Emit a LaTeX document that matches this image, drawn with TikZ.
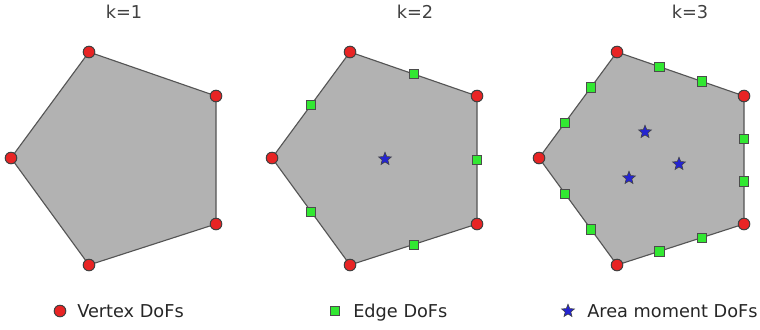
\documentclass[tikz,border=0pt]{standalone}
\usepackage{fontspec}
\setmainfont{DejaVu Sans}
\usepackage{tikz}
\usetikzlibrary{shapes.geometric,calc}
\definecolor{cellgray}{RGB}{178,178,178}
\definecolor{edgegray}{RGB}{85,85,85}
\definecolor{vred}{RGB}{232,36,36}
\definecolor{egreen}{RGB}{50,232,50}
\definecolor{ablue}{RGB}{36,36,210}

\begin{document}
\begin{tikzpicture}[x=0.025cm,y=-0.025cm,
  cell/.style={fill=cellgray,draw=edgegray,line width=0.8pt,line join=round},
  vdof/.style={circle,draw=black!75,fill=vred,line width=0.7pt,minimum size=0.29cm,inner sep=0pt},
  edof/.style={rectangle,draw=black!70,fill=egreen,line width=0.5pt,minimum size=0.23cm,inner sep=0pt},
  adof/.style={star,star points=5,star point ratio=2.3,draw=black!75,fill=ablue,line width=0.4pt,minimum size=0.34cm,inner sep=0pt},
  ktitle/.style={anchor=base,inner sep=0pt,text=black!75,font=\fontsize{12.6}{15}\selectfont},
  legtext/.style={anchor=base west,inner sep=0pt,text=black!85,font=\fontsize{12.6}{15}\selectfont}]
\useasboundingbox (0,0) rectangle (760,329);
% k=1
\node[ktitle] (t1) at (124,18) {k=1};
\coordinate (a1) at (89,52);
\coordinate (b1) at (216,96);
\coordinate (c1) at (216,224);
\coordinate (d1) at (89,265);
\coordinate (e1) at (11,158);
\draw[cell] (a1) -- (b1) -- (c1) -- (d1) -- (e1) -- cycle;
\node[vdof] (v1a) at (a1) {};
\node[vdof] (v1b) at (b1) {};
\node[vdof] (v1c) at (c1) {};
\node[vdof] (v1d) at (d1) {};
\node[vdof] (v1e) at (e1) {};
% k=2
\node[ktitle] (t2) at (415,18) {k=2};
\coordinate (a2) at (350,52);
\coordinate (b2) at (477,96);
\coordinate (c2) at (477,224);
\coordinate (d2) at (350,265);
\coordinate (e2) at (272,158);
\draw[cell] (a2) -- (b2) -- (c2) -- (d2) -- (e2) -- cycle;
\node[edof] (s2ab) at ($(a2)!0.5!(b2)$) {};
\node[edof] (s2bc) at ($(b2)!0.5!(c2)$) {};
\node[edof] (s2cd) at ($(c2)!0.5!(d2)$) {};
\node[edof] (s2de) at ($(d2)!0.5!(e2)$) {};
\node[edof] (s2ea) at ($(e2)!0.5!(a2)$) {};
\node[adof] (m2) at (385,159) {};
\node[vdof] (v2a) at (a2) {};
\node[vdof] (v2b) at (b2) {};
\node[vdof] (v2c) at (c2) {};
\node[vdof] (v2d) at (d2) {};
\node[vdof] (v2e) at (e2) {};
% k=3
\node[ktitle] (t3) at (690,18) {k=3};
\coordinate (a3) at (617,52);
\coordinate (b3) at (744,96);
\coordinate (c3) at (744,224);
\coordinate (d3) at (617,265);
\coordinate (e3) at (539,158);
\draw[cell] (a3) -- (b3) -- (c3) -- (d3) -- (e3) -- cycle;
\node[edof] (s3ab1) at ($(a3)!1/3!(b3)$) {};
\node[edof] (s3ab2) at ($(a3)!2/3!(b3)$) {};
\node[edof] (s3bc1) at ($(b3)!1/3!(c3)$) {};
\node[edof] (s3bc2) at ($(b3)!2/3!(c3)$) {};
\node[edof] (s3cd1) at ($(c3)!1/3!(d3)$) {};
\node[edof] (s3cd2) at ($(c3)!2/3!(d3)$) {};
\node[edof] (s3de1) at ($(d3)!1/3!(e3)$) {};
\node[edof] (s3de2) at ($(d3)!2/3!(e3)$) {};
\node[edof] (s3ea1) at ($(e3)!1/3!(a3)$) {};
\node[edof] (s3ea2) at ($(e3)!2/3!(a3)$) {};
\node[adof] (m3a) at (645,132) {};
\node[adof] (m3b) at (679,164) {};
\node[adof] (m3c) at (629,178) {};
\node[vdof] (v3a) at (a3) {};
\node[vdof] (v3b) at (b3) {};
\node[vdof] (v3c) at (c3) {};
\node[vdof] (v3d) at (d3) {};
\node[vdof] (v3e) at (e3) {};
% legend
\node[vdof] (lv) at (60,311) {};
\node[legtext] (lvt) at (77,317) {Vertex DoFs};
\node[edof] (le) at (335,311) {};
\node[legtext] (let) at (353,317) {Edge DoFs};
\node[adof] (la) at (568,311) {};
\node[legtext] (lat) at (587,317) {Area moment DoFs};
\end{tikzpicture}
\end{document}
